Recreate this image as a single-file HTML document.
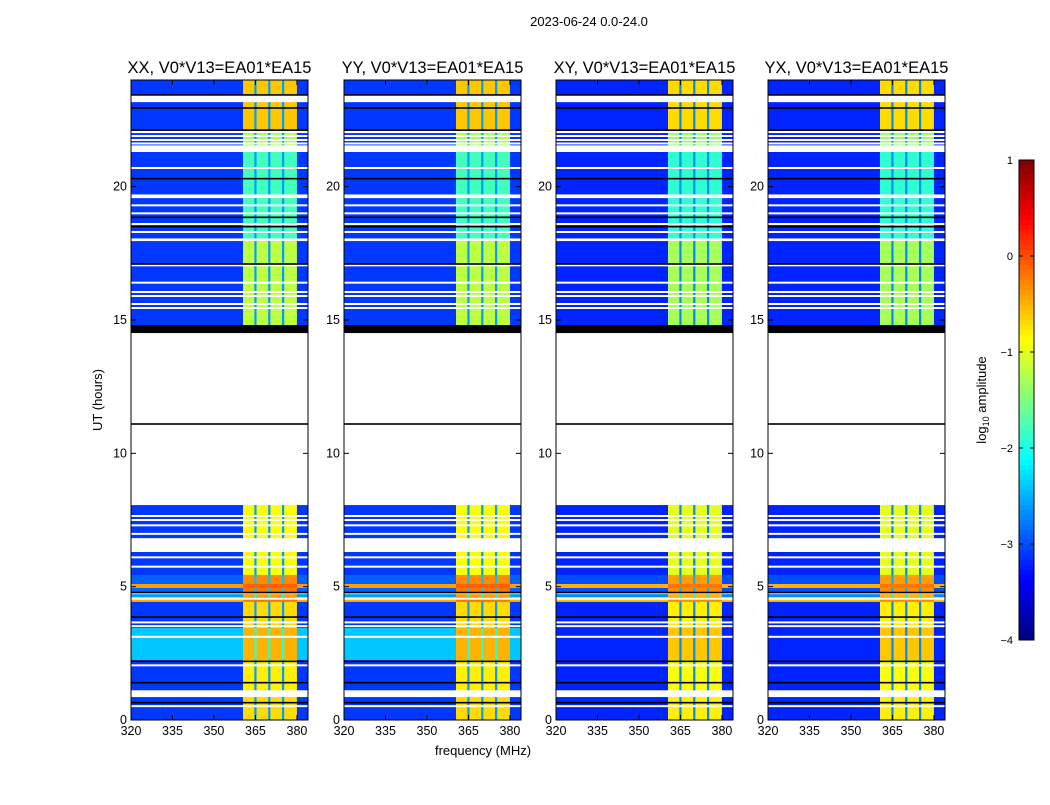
<!DOCTYPE html>
<html><head><meta charset="utf-8"><style>
body{margin:0;background:#fff;width:1050px;height:800px;overflow:hidden}
svg{font-family:"Liberation Sans",sans-serif}
</style></head><body>
<svg id="fig" width="1050" height="800" xmlns="http://www.w3.org/2000/svg">
<text x="589" y="26" font-size="13" text-anchor="middle">2023-06-24 0.0-24.0</text>
<text x="102" y="400" font-size="13" text-anchor="middle" transform="rotate(-90 102 400)">UT (hours)</text>
<text x="483" y="755" font-size="13" text-anchor="middle">frequency (MHz)</text>
<g id="panels"></g>
<g id="cbar"></g>
<text x="986" y="400" font-size="13" text-anchor="middle" transform="rotate(-90 986 400)">log<tspan font-size="9" dy="3">10</tspan><tspan dy="-3"> amplitude</tspan></text>
</svg>
<script>
// ---- data ----
const panelTitles = ["XX, V0*V13=EA01*EA15","YY, V0*V13=EA01*EA15","XY, V0*V13=EA01*EA15","YX, V0*V13=EA01*EA15"];
const panelOffsets = [0, 0, -0.1, -0.1];
// background level of the 2.25-3.45 h row per panel (parallel hands brighter)
const midRowBg = [-2.4, -2.4, -3.1, -3.1];
// [startHour, endHour, backgroundLog, rfiLog]
const timeRows = [
 [23.44,24,-3.1,-0.6],[22.12,23.17,-3.1,-0.6],[21.56,22.01,-3.1,-1.3],
 [19.72,21.3,-3.1,-1.8],[18.07,19.57,-3.1,-1.8],[14.81,17.96,-3.1,-1.2],
 [6.83,8.06,-3.1,-0.9],[5.44,6.3,-3.1,-0.9],[5.1,5.44,-2.9,-0.3],
 [4.95,5.1,-0.4,-0.1],[4.8,4.95,-2.9,-0.2],[4.61,4.72,-2.6,-0.4],
 [4.43,4.61,-0.5,-0.2],[3.45,4.43,-3.1,-0.7],[2.25,3.45,null,-0.5],
 [1.125,2.25,-3.1,-0.8],[0,0.86,-3.1,-0.7]
];
// [startMHz, endMHz, kind]
const freqBands = [[320,360.5,"bg"],[360.5,364.6,"rfi"],[364.6,365.4,"gap"],[365.4,369.6,"rfi"],[369.6,370.4,"gap"],[370.4,374.6,"rfi"],[374.6,375.4,"gap"],[375.4,380,"rfi"],[380,384,"bg"]];
const whiteLineHours = [22.05,21.9,21.75,21.62,20.7,19.3,19.0,18.6,18.3,17.05,16.4,16.05,15.9,15.6,15.45,7.65,7.5,7.3,6.98,6.1,5.75,4.55,3.66,3.52,3.12,2.05,0.52];
const blackLineHours = [23.44,22.95,22.12,20.3,18.85,18.5,17.1,11.1,4.78,3.86,2.2,1.4,0.65];
const blackBand = [14.51,14.81];
const yTicks = [0,5,10,15,20];
const xTicks = [320,335,350,365,380];
const cbarTicks = [1,0,-1,-2,-3,-4];

// ---- layout ----
const panelLeft = [131,344,556,768], pw = 177, plotTop = 80, plotBottom = 720;
const yS = h => plotBottom - h*(plotBottom-plotTop)/24;
const NS = "http://www.w3.org/2000/svg";
function jet(v){
  let t = Math.max(0,Math.min(1,(v+4)/5));
  const c = x => Math.round(255*Math.max(0,Math.min(1,1.5-Math.abs(4*t-x))));
  return `rgb(${c(3)},${c(2)},${c(1)})`;
}
function mk(tag, attrs, parent){
  const e = document.createElementNS(NS, tag);
  for (const k in attrs) e.setAttribute(k, attrs[k]);
  parent.appendChild(e); return e;
}
const panelRoot = document.getElementById("panels");
panelTitles.forEach((title, p) => {
  const L = panelLeft[p];
  const xS = f => L + (f-320)*pw/64;
  const g = mk("g", {}, panelRoot);
  
  
  const off = panelOffsets[p];
  timeRows.forEach(r => {
    const bg = r[2] === null ? midRowBg[p] : r[2];
    freqBands.forEach(b => {
      let v = b[2]==="bg" ? bg : b[2]==="rfi" ? r[3] : Math.min(bg + 0.5, r[3]);
      v += off;
      const rc = mk("rect", {x:xS(b[0]), y:yS(r[1]), width:xS(b[1])-xS(b[0])+0.3, height:yS(r[0])-yS(r[1])+0.3, fill:jet(v)}, g);
      
      
    });
  });
  whiteLineHours.forEach(h => {
    const l = mk("rect", {x:L, y:yS(h)-1, width:pw, height:2, fill:"#fff"}, g);
    
    
  });
  blackLineHours.forEach(h => {
    const l = mk("rect", {x:L, y:yS(h)-0.8, width:pw, height:1.6, fill:"#000"}, g);
    
    
  });
  const bb = mk("rect", {x:L, y:yS(blackBand[1]), width:pw, height:yS(blackBand[0])-yS(blackBand[1]), fill:"#000"}, g);
  
  
  const fr = mk("rect", {x:L, y:plotTop, width:pw, height:plotBottom-plotTop, fill:"none", stroke:"#000", "stroke-width":1}, g);
  
  
  const tt = mk("text", {x:L+pw/2, y:73, "font-size":16.5, "text-anchor":"middle"}, g);
  tt.textContent = title;
  
  
  yTicks.forEach(h => {
    const y = yS(h);
    mk("line", {x1:L, x2:L+5, y1:y, y2:y, stroke:"#000"}, g);
    mk("line", {x1:L+pw-5, x2:L+pw, y1:y, y2:y, stroke:"#000"}, g);
    const t = mk("text", {x:L-4, y:y+4, "font-size":12.5, "text-anchor":"end"}, g);
    t.textContent = h;
    
    
  });
  xTicks.forEach(f => {
    const x = xS(f);
    mk("line", {x1:x, x2:x, y1:plotBottom, y2:plotBottom-5, stroke:"#000"}, g);
    mk("line", {x1:x, x2:x, y1:plotTop, y2:plotTop+5, stroke:"#000"}, g);
    const t = mk("text", {x:x, y:plotBottom+15, "font-size":12.5, "text-anchor":"middle"}, g);
    t.textContent = f;
    
    
  });
});
// colorbar
const cb = document.getElementById("cbar");
const cx = 1019, cw = 15, ct = 160, cbot = 640;
for (let i = 0; i < 96; i++){
  const v = 1 - 5*(i+0.5)/96;
  mk("rect", {x:cx, y:ct+i*5, width:cw, height:5.3, fill:jet(v)}, cb);
}
mk("rect", {x:cx, y:ct, width:cw, height:cbot-ct, fill:"none", stroke:"#000"}, cb);
cbarTicks.forEach(v => {
  const y = ct + (1-v)*(cbot-ct)/5;
  mk("line", {x1:cx, x2:cx+4, y1:y, y2:y, stroke:"#000"}, cb);
  mk("line", {x1:cx+cw-4, x2:cx+cw, y1:y, y2:y, stroke:"#000"}, cb);
  const t = mk("text", {x:1013, y:y+4, "font-size":11, "text-anchor":"end"}, cb);
  t.textContent = v < 0 ? "\u2212" + (-v) : v;
  
  
});
</script>
</body></html>
